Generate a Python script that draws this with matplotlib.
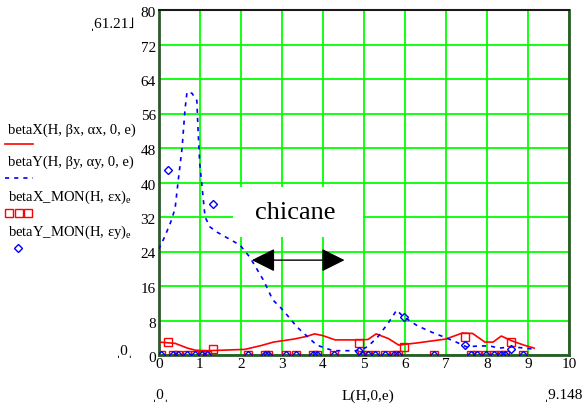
import matplotlib
matplotlib.use('Agg')
import matplotlib.pyplot as plt
from matplotlib.lines import Line2D
from matplotlib.patches import Rectangle
import matplotlib.transforms as mtransforms

plt.rcParams['font.family'] = ['Liberation Serif', 'DejaVu Serif']
plt.rcParams['mathtext.fontset'] = 'custom'
plt.rcParams['mathtext.rm'] = 'Liberation Serif'
plt.rcParams['mathtext.it'] = 'Liberation Serif:italic'

# ---- data ----
betaX_s = [0, 0.4, 0.7, 0.9, 1.2, 1.5, 2.1, 2.5, 2.8, 3.3, 3.6, 3.8, 4.0, 4.3,
           4.9, 5.1, 5.3, 5.6, 5.85, 6.3, 7.0, 7.4, 7.65, 7.95, 8.15, 8.35,
           8.6, 8.9, 9.15]
betaX_v = [3.0, 2.7, 1.6, 1.1, 1.0, 1.1, 1.3, 2.2, 3.0, 3.7, 4.3, 4.9, 4.5,
           3.5, 3.5, 3.6, 4.9, 3.8, 2.3, 2.8, 3.7, 5.1, 5.0, 3.0, 3.0, 4.4,
           3.3, 2.3, 1.6]

betaY_s = [0, 0.15, 0.3, 0.4, 0.47, 0.57, 0.64, 0.69, 0.81, 0.93, 0.96, 1.0,
           1.08, 1.13, 1.25, 1.42, 1.98, 2.22, 2.55, 2.78, 3.03, 3.37, 3.85,
           4.25, 4.6, 4.9, 5.1, 5.34, 5.6, 5.8, 5.95, 6.3, 6.65, 7.0, 7.25,
           7.5, 7.82, 8.06, 8.3, 8.62, 9.1]
betaY_v = [24.5, 27.5, 31.0, 34.0, 40.0, 48.0, 56.8, 61.0, 60.7, 59.0, 52.0,
           44.5, 36.7, 32.0, 29.7, 28.5, 25.5, 22.7, 17.4, 12.8, 10.4, 6.5,
           2.3, 1.0, 1.0, 1.0, 2.0, 4.2, 7.5, 10.4, 9.0, 6.8, 5.3, 4.0, 3.0,
           1.9, 2.1, 2.1, 1.6, 1.9, 1.4]

mon_s = [0.06, 0.22, 0.36, 0.48, 0.68, 0.88, 1.05, 1.17, 1.33, 2.18, 2.59,
         2.67, 3.10, 3.34, 3.76, 3.86, 4.27, 4.87, 4.95, 5.10, 5.26, 5.51,
         5.73, 5.83, 5.99, 6.72, 7.47, 7.62, 7.76, 7.98, 8.18, 8.35, 8.43,
         8.59, 8.87]
monX_v = [0, 3.0, 0, 0, 0, 0, 0, 0, 1.4, 0, 0, 0, 0, 0, 0, 0, 0, 2.8, 0, 0,
          0, 0, 0, 0, 1.9, 0, 4.2, 0, 0, 0, 0, 0, 0, 3.0, 0]
monY_v = [0, 42.9, 0, 0, 0, 0, 0, 0, 35.0, 0, 0, 0, 0, 0, 0, 0, 0, 1.0, 0, 0,
          0, 0, 0, 0, 8.7, 0, 2.3, 0, 0, 0, 0, 0, 0, 1.4, 0]

x_ticks = list(range(0, 11))
y_ticks = list(range(0, 81, 8))

W, H = 586, 405
fig = plt.figure(figsize=(W / 100, H / 100), dpi=100)
ax = fig.add_axes([158.7 / W, 1 - 355 / H, (569 - 158.7) / W, (355 - 10) / H])

red = '#ff0000'
blue = '#0000ff'
ax.plot(betaX_s, betaX_v, color=red, lw=1.2, zorder=3)
ax.plot(betaY_s, betaY_v, color=blue, lw=1.2, ls=(0, (2.5, 3)), zorder=3)
ax.plot(mon_s, monX_v, ls='none', marker='s', ms=6, mfc='none', mec=red,
        mew=1.0, zorder=4)
ax.plot(mon_s, monY_v, ls='none', marker='D', ms=4.2, mfc='none', mec=blue,
        mew=1.0, zorder=5)

ax.set_xlim(0, 10)
ax.set_ylim(0, 80)
ax.set_xticks(x_ticks)
ax.set_yticks(y_ticks)
ax.set_axisbelow(True)
ax.grid(True, color='#00ff00', lw=1.3)
ax.tick_params(length=0, labelsize=11, pad=2)
offset = mtransforms.ScaledTranslation(0, -2 / 100, fig.dpi_scale_trans)
for lab in ax.get_yticklabels():
    lab.set_transform(lab.get_transform() + offset)
for s in ax.spines.values():
    s.set_color('#2d5a2d')
    s.set_linewidth(2)
ax.spines['top'].set_color('#1a1a1a')
ax.spines['top'].set_linewidth(1.5)

# chicane annotation
ax.add_patch(Rectangle((1.81, 27.4), 3.16, 11.6, facecolor='white',
                       edgecolor='none', zorder=1))
ax.text(3.34, 33.0, 'chicane', fontsize=19, ha='center', va='center',
        zorder=6)
ax.annotate('', xy=(2.27, 22), xytext=(4.53, 22),
            arrowprops=dict(arrowstyle='<|-|>,head_length=1.0,head_width=0.5',
                            color='black', lw=1, mutation_scale=14.4,
                            shrinkA=0, shrinkB=0), zorder=6)


def ft(x, y, s, **kw):
    fig.text(x / W, 1 - y / H, s, **kw)


# axis limit labels
ft(112, 24, 'ˌ61.21˩', fontsize=11, ha='center', va='center')
ft(125, 351, 'ˌ0ˌ', fontsize=11, ha='center', va='center')
ft(161, 396, 'ˌ0ˌ', fontsize=11, ha='center', va='center')
ft(368, 396, 'L(H,0,e)', fontsize=11, ha='center', va='center')
ft(583, 396, 'ˌ9.148', fontsize=11, ha='right', va='center')

# legend (left side)
lfs = 10.5
ft(8, 130, 'betaX(H, βx, αx, 0, e)', fontsize=lfs, ha='left', va='center')
ft(8, 162, 'betaY(H, βy, αy, 0, e)', fontsize=lfs, ha='left', va='center')
ft(8, 197, r'betaX_MON(H, εx)$_\mathrm{e}$', fontsize=lfs, ha='left', va='center')
ft(8, 232, r'betaY_MON(H, εy)$_\mathrm{e}$', fontsize=lfs, ha='left', va='center')

fig.add_artist(Line2D([5 / W, 33 / W], [1 - 144 / H] * 2, color=red, lw=1.2))
fig.add_artist(Line2D([5 / W, 33 / W], [1 - 178 / H] * 2, color=blue, lw=1.2,
                      ls=(0, (2.5, 3))))
fig.add_artist(Line2D([9 / W, 18.5 / W, 28 / W], [1 - 213 / H] * 3, ls='none',
                      marker='s', ms=6, mfc='none', mec=red, mew=1.0))
fig.add_artist(Line2D([18 / W], [1 - 248 / H], ls='none', marker='D', ms=4.2,
                      mfc='none', mec=blue, mew=1.0))

fig.savefig('out.png', dpi=100)
